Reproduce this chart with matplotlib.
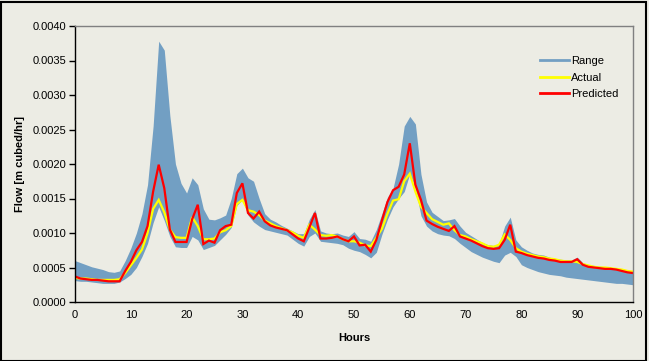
import matplotlib
matplotlib.use("Agg")
import matplotlib.pyplot as plt
from matplotlib.patches import Rectangle
from matplotlib.lines import Line2D

hours = list(range(0, 101))

predicted = [0.00037, 0.00034, 0.00033, 0.00032, 0.00032, 0.00031, 0.00030, 0.00030, 0.00030, 0.00045,
             0.00058, 0.00075, 0.00087, 0.00110, 0.00160, 0.00199, 0.00165, 0.00105, 0.00087, 0.00087,
             0.00087, 0.00120, 0.00141, 0.00084, 0.00089, 0.00086, 0.00104, 0.00110, 0.00112, 0.00158,
             0.00172, 0.00129, 0.00121, 0.00131, 0.00117, 0.00111, 0.00108, 0.00106, 0.00104, 0.00098,
             0.00092, 0.00088, 0.00108, 0.00129, 0.00092, 0.00092, 0.00093, 0.00095, 0.00091, 0.00088,
             0.00095, 0.00082, 0.00083, 0.00073, 0.00090, 0.00118, 0.00145, 0.00162, 0.00167, 0.00185,
             0.00230, 0.00170, 0.00148, 0.00118, 0.00113, 0.00109, 0.00106, 0.00103, 0.00110, 0.00095,
             0.00092, 0.00089, 0.00085, 0.00081, 0.00078, 0.00077, 0.00078, 0.00090, 0.00112, 0.00073,
             0.00071, 0.00068, 0.00066, 0.00064, 0.00063, 0.00061, 0.00060, 0.00058, 0.00058, 0.00058,
             0.00062, 0.00054, 0.00051, 0.00050, 0.00049, 0.00048, 0.00048, 0.00047, 0.00045, 0.00043,
             0.00042]

actual = [0.00035, 0.00034, 0.00034, 0.00033, 0.00032, 0.00032, 0.00032, 0.00032, 0.00033, 0.00042,
          0.00053, 0.00064, 0.00076, 0.00100, 0.00135, 0.00148, 0.00130, 0.00105, 0.00094, 0.00093,
          0.00093, 0.00123, 0.00110, 0.00091, 0.00091, 0.00092, 0.00101, 0.00104, 0.00110, 0.00142,
          0.00148, 0.00133, 0.00131, 0.00126, 0.00118, 0.00114, 0.00110, 0.00107, 0.00104, 0.00101,
          0.00096, 0.00093, 0.00112, 0.00105, 0.00097, 0.00096, 0.00097, 0.00095, 0.00091, 0.00088,
          0.00088, 0.00086, 0.00082, 0.00081, 0.00093, 0.00106, 0.00128, 0.00147, 0.00149, 0.00175,
          0.00186, 0.00160, 0.00138, 0.00129, 0.00120, 0.00116, 0.00112, 0.00114, 0.00104, 0.00097,
          0.00095, 0.00091, 0.00088, 0.00085, 0.00081, 0.00080, 0.00083, 0.00098, 0.00090, 0.00078,
          0.00073, 0.00070, 0.00068, 0.00066, 0.00065, 0.00063, 0.00062, 0.00060, 0.00059, 0.00059,
          0.00058, 0.00055, 0.00053, 0.00051, 0.00050, 0.00050, 0.00049, 0.00048, 0.00047, 0.00045,
          0.00044]

range_low = [0.00031, 0.00030, 0.00030, 0.00029, 0.00028, 0.00027, 0.00027, 0.00027, 0.00029, 0.00034,
             0.00040, 0.00050, 0.00066, 0.00085, 0.00115, 0.00138, 0.00118, 0.00095, 0.00080, 0.00079,
             0.00079, 0.00095, 0.00090, 0.00076, 0.00079, 0.00082, 0.00090, 0.00098, 0.00108, 0.00140,
             0.00148, 0.00126, 0.00116, 0.00110, 0.00105, 0.00103, 0.00101, 0.00099, 0.00097, 0.00091,
             0.00085, 0.00081, 0.00095, 0.00100, 0.00088, 0.00087, 0.00086, 0.00085, 0.00083, 0.00078,
             0.00075, 0.00073, 0.00069, 0.00064, 0.00072, 0.00098, 0.00120, 0.00138, 0.00150, 0.00160,
             0.00186, 0.00165, 0.00125, 0.00110, 0.00103, 0.00099, 0.00097, 0.00096, 0.00092, 0.00085,
             0.00079, 0.00073, 0.00069, 0.00065, 0.00062, 0.00059, 0.00057, 0.00068, 0.00072, 0.00066,
             0.00054, 0.00050, 0.00047, 0.00044, 0.00042, 0.00040, 0.00039, 0.00038, 0.00036, 0.00035,
             0.00034, 0.00033, 0.00032, 0.00031, 0.00030, 0.00029, 0.00028, 0.00027, 0.00027, 0.00026,
             0.00025]

range_high = [0.00060, 0.00057, 0.00054, 0.00051, 0.00049, 0.00047, 0.00044, 0.00043, 0.00045, 0.00060,
              0.00078, 0.00100, 0.00128, 0.00170, 0.00255, 0.00378, 0.00365, 0.00270, 0.00200, 0.00172,
              0.00158, 0.00180, 0.00170, 0.00135, 0.00120, 0.00119, 0.00122, 0.00126, 0.00150, 0.00186,
              0.00194, 0.00180, 0.00175, 0.00150, 0.00128, 0.00120, 0.00116, 0.00111, 0.00107, 0.00103,
              0.00099, 0.00099, 0.00120, 0.00134, 0.00103, 0.00100, 0.00099, 0.00100, 0.00097, 0.00095,
              0.00102, 0.00092, 0.00091, 0.00088, 0.00105, 0.00128, 0.00152, 0.00165, 0.00200, 0.00255,
              0.00269, 0.00258, 0.00185, 0.00145, 0.00130, 0.00124, 0.00118, 0.00119, 0.00121, 0.00110,
              0.00101, 0.00096, 0.00091, 0.00086, 0.00083, 0.00082, 0.00084, 0.00110, 0.00123, 0.00090,
              0.00080, 0.00075, 0.00071, 0.00069, 0.00068, 0.00065, 0.00063, 0.00062, 0.00061, 0.00061,
              0.00065, 0.00057, 0.00054, 0.00053, 0.00052, 0.00051, 0.00050, 0.00049, 0.00048, 0.00046,
              0.00045]

x_ticks = [0, 10, 20, 30, 40, 50, 60, 70, 80, 90, 100]
y_ticks = [0.0, 0.0005, 0.0010, 0.0015, 0.0020, 0.0025, 0.0030, 0.0035, 0.0040]

BG = "#ECECE4"
BAND = "#729FC3"
W, H = 649, 361

plt.rcParams["font.family"] = ["Liberation Sans", "DejaVu Sans"]

fig = plt.figure(figsize=(W / 100, H / 100), dpi=100, facecolor=BG)
ax = fig.add_axes([75 / W, (H - 302) / H, (633 - 75) / W, (302 - 26) / H])
ax.set_facecolor(BG)

ax.fill_between(hours, range_low, range_high, color=BAND, linewidth=0)
ax.plot(hours, actual, color="#FFFF00", linewidth=1.6, solid_joinstyle="miter")
ax.plot(hours, predicted, color="#FF0000", linewidth=1.6, solid_joinstyle="miter")

ax.set_xlim(0, 100)
ax.set_ylim(0, 0.004)
ax.set_xticks(x_ticks)
ax.set_xticklabels([str(t) for t in x_ticks])
ax.set_yticks(y_ticks)
ax.set_yticklabels([f"{t:.4f}" for t in y_ticks])
ax.tick_params(axis="x", length=0, pad=6, labelsize=8)
ax.tick_params(axis="y", direction="out", length=4, width=1, pad=2, labelsize=8)

for s in ["left", "bottom"]:
    ax.spines[s].set_color("black")
    ax.spines[s].set_linewidth(1)
for s in ["top", "right"]:
    ax.spines[s].set_color("#808080")
    ax.spines[s].set_linewidth(1)

fig.text(20 / W, 1 - 164 / H, "Flow [m cubed/hr]", rotation=90, ha="center", va="center",
         fontsize=8, fontweight="bold")
fig.text(354 / W, 1 - 338 / H, "Hours", ha="center", va="center", fontsize=8, fontweight="bold")

handles = [Line2D([], [], color=BAND, linewidth=2),
           Line2D([], [], color="#FFFF00", linewidth=2),
           Line2D([], [], color="#FF0000", linewidth=2)]
leg = ax.legend(handles, ["Range", "Actual", "Predicted"], loc="upper left",
                bbox_to_anchor=((540 - 75) / (633 - 75), 1 - (56 - 26) / (302 - 26)),
                frameon=False, fontsize=8, handlelength=2.6, handletextpad=0.2,
                labelspacing=0.6, borderaxespad=0, borderpad=0)

fig.patches.append(Rectangle((0.5 / W, 0.5 / H), 645 / W, 359 / H, transform=fig.transFigure,
                             fill=False, edgecolor="black", linewidth=1.5))

fig.savefig("out.png", dpi=100, facecolor=BG)
